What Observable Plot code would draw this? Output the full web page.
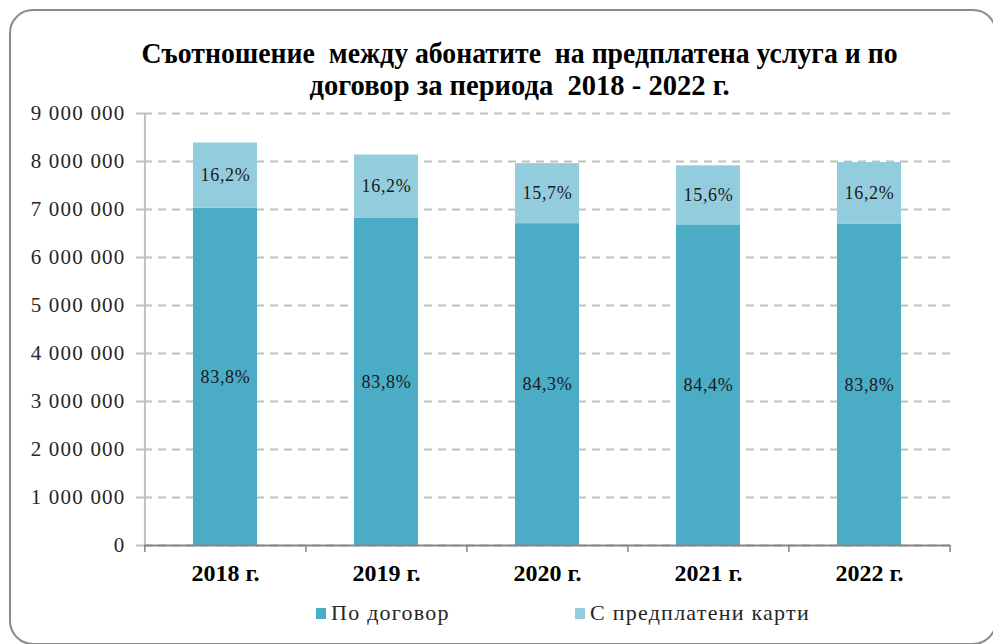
<!DOCTYPE html>
<html>
<head>
<meta charset="utf-8">
<script src="https://cdn.jsdelivr.net/npm/d3@7"></script>
<script src="https://cdn.jsdelivr.net/npm/@observablehq/plot@0.6"></script>
<style>
  html, body { margin: 0; padding: 0; background: #fff; }
  #wrap { position: relative; width: 993px; height: 644px; overflow: hidden; background: #fff; font-family: "Liberation Serif", "Times New Roman", serif; }
  #border { position: absolute; left: 9px; top: 9px; width: 988px; height: 636px; border: 2px solid #8a8a8a; border-radius: 24px; box-sizing: border-box; }
  .tline { position: absolute; left: 0; width: 1040px; text-align: center; font-weight: bold; font-size: 30px; color: #000; white-space: pre; line-height: 32px; }
  .tline span { display: inline-block; transform-origin: center; }
  #chart { position: absolute; left: 0; top: 0; }
  .leg { position: absolute; top: 598px; font-size: 22px; letter-spacing: 1.25px; color: #262626; white-space: nowrap; line-height: 30px; }
  .sw { position: absolute; width: 10px; height: 11px; top: 608px; }
  #chart g[aria-label="y-axis tick label"] text { letter-spacing: 1.2px; }
</style>
</head>
<body>
<div id="wrap">
  <div id="border"></div>
  <div id="chart"></div>
  <div class="tline" id="t1" style="top:37px"><span></span></div>
  <div class="tline" id="t2" style="top:69px"><span></span></div>
  <div class="sw" id="sw1"></div><div class="leg" id="lg1"></div>
  <div class="sw" id="sw2"></div><div class="leg" id="lg2"></div>
</div>
<script>
// ---- data ----
const titleLines = ["Съотношение  между абонатите  на предплатена услуга и по", "договор за периода  2018 - 2022 г."];
const years = ["2018 г.", "2019 г.", "2020 г.", "2021 г.", "2022 г."];
const seriesNames = ["По договор", "С предплатени карти"];
const seriesColors = ["#4BACC6", "#93CDDD"];
const contract = [7030000, 6815000, 6705000, 6680000, 6690000];
const prepaid = [1355000, 1320000, 1250000, 1230000, 1290000];
const contractPct = ["83,8%", "83,8%", "84,3%", "84,4%", "83,8%"];
const prepaidPct = ["16,2%", "16,2%", "15,7%", "15,6%", "16,2%"];
const yTicks = [0, 1000000, 2000000, 3000000, 4000000, 5000000, 6000000, 7000000, 8000000, 9000000];

// ---- table ----
const rows = [];
years.forEach((y, i) => {
  rows.push({year: y, series: seriesNames[0], value: contract[i], label: contractPct[i]});
  rows.push({year: y, series: seriesNames[1], value: prepaid[i], label: prepaidPct[i]});
});

const W = 993, H = 644, mL = 144, mR = 43, mT = 113, mB = 99;
const step = (W - mL - mR) / years.length;
const fmt = d => d3.format(",")(d).replace(/,/g, " ");

const chart = Plot.plot({
  width: W, height: H,
  marginLeft: mL, marginRight: mR, marginTop: mT, marginBottom: mB,
  style: {fontFamily: "'Liberation Serif', 'Times New Roman', serif", fontSize: "19px", color: "#262626", background: "transparent", overflow: "visible"},
  x: {domain: years, paddingInner: 0.6, paddingOuter: 0.3, label: null},
  y: {domain: [0, 9000000], label: null},
  color: {domain: seriesNames, range: seriesColors},
  marks: [
    Plot.gridY(yTicks, {stroke: "#bfbfbf", strokeOpacity: 1, strokeWidth: 2, strokeDasharray: "8,6"}),
    Plot.axisY({ticks: yTicks, tickSize: 8, tickPadding: 11, tickFormat: fmt, stroke: "#bfbfbf", strokeWidth: 2, fontSize: 21, label: null, fill: "#262626"}),
    Plot.ruleX([years[0]], {x: d => d, y1: 0, y2: 9000000, dx: -step / 2, stroke: "#bfbfbf", strokeWidth: 2}),
    Plot.barY(rows, {x: "year", y: "value", fill: "series"}),
    Plot.text(rows, Plot.stackY({x: "year", y: "value", z: "series", text: "label", fontSize: 18, fill: "#1a1a1a", className: "pct"})),
    Plot.ruleY([0], {stroke: "#868686", strokeWidth: 2}),
    Plot.ruleX(years, {x: d => d, y1: 0, y2: 0, dx: -step / 2, insetBottom: -7, stroke: "#868686", strokeWidth: 1.5}),
    Plot.ruleX([years[years.length - 1]], {x: d => d, y1: 0, y2: 0, dx: step / 2, insetBottom: -7, stroke: "#868686", strokeWidth: 1.5}),
    Plot.axisX({tickSize: 0, tickPadding: 18, fontWeight: "bold", fontSize: 24, label: null, fill: "#000"})
  ]
});
document.getElementById("chart").appendChild(chart);
chart.querySelectorAll("g.pct text, text.pct").forEach(t => t.style.letterSpacing = "0.7px");

// title
const targets = [756, 420];
["t1", "t2"].forEach((id, i) => {
  const sp = document.querySelector("#" + id + " span");
  sp.textContent = titleLines[i];
  const w = sp.getBoundingClientRect().width;
  sp.style.transform = "scaleX(" + (targets[i] / w) + ")";
});

// legend
const sw1 = document.getElementById("sw1"), sw2 = document.getElementById("sw2");
sw1.style.left = "316px"; sw1.style.background = seriesColors[0];
sw2.style.left = "575px"; sw2.style.background = seriesColors[1];
const lg1 = document.getElementById("lg1"), lg2 = document.getElementById("lg2");
lg1.textContent = seriesNames[0]; lg1.style.left = "331px";
lg2.textContent = seriesNames[1]; lg2.style.left = "590px";
</script>
</body>
</html>
